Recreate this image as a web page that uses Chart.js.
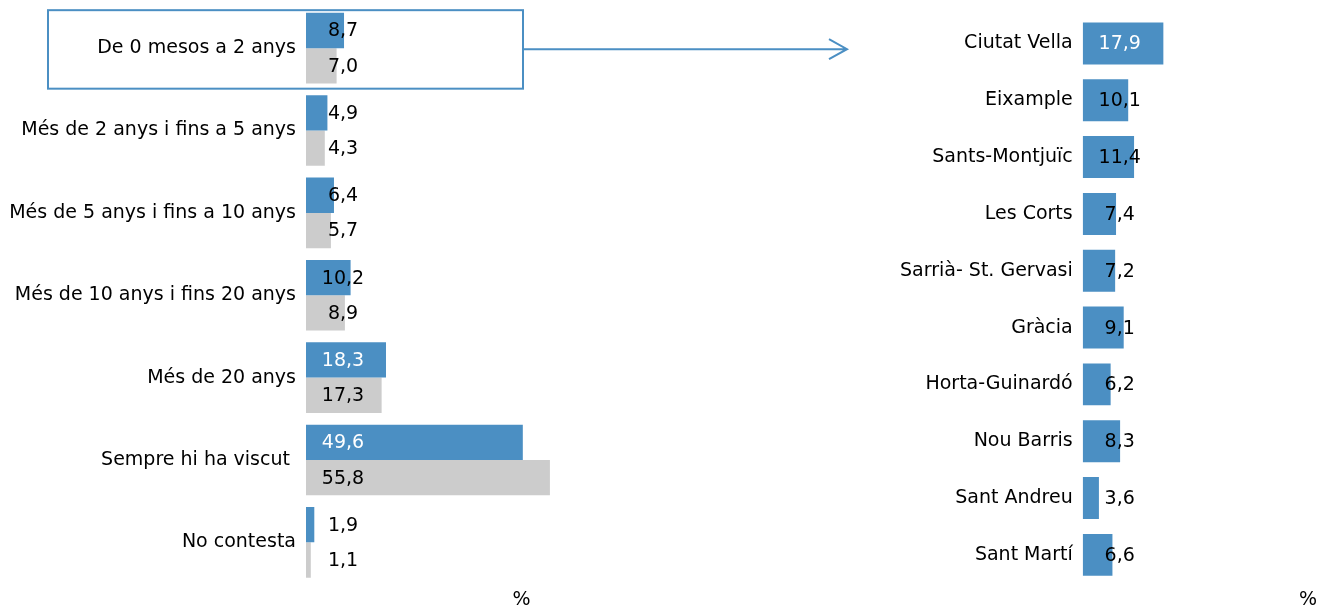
<!DOCTYPE html>
<html>
<head>
<meta charset="utf-8">
<script src="https://cdn.jsdelivr.net/npm/chart.js@4"></script>
<style>
  body { margin: 0; background: #fff; }
  #wrap { position: relative; width: 1322px; height: 610px; }
  #left { position: absolute; left: 0; top: 0; }
  #right { position: absolute; left: 860px; top: 0; }
</style>
</head>
<body>
<div id="wrap">
  <canvas id="left" width="860" height="610"></canvas>
  <canvas id="right" width="462" height="610"></canvas>
</div>
<script>
// time living in the neighbourhood
var anysLabels = ['De 0 mesos a 2 anys', 'Més de 2 anys i fins a 5 anys', 'Més de 5 anys i fins a 10 anys',
    'Més de 10 anys i fins 20 anys', 'Més de 20 anys', 'Sempre hi ha viscut ', 'No contesta'];
var anysBlau = [8.7, 4.9, 6.4, 10.2, 18.3, 49.6, 1.9];
var anysGris = [7.0, 4.3, 5.7, 8.9, 17.3, 55.8, 1.1];

// "De 0 mesos a 2 anys" by district
var districtes = ['Ciutat Vella', 'Eixample', 'Sants-Montjuïc', 'Les Corts', 'Sarrià- St. Gervasi',
    'Gràcia', 'Horta-Guinardó', 'Nou Barris', 'Sant Andreu', 'Sant Martí'];
var districtesValors = [17.9, 10.1, 11.4, 7.4, 7.2, 9.1, 6.2, 8.3, 3.6, 6.6];

var BLUE = '#4b8fc3';
var GREY = '#cccccc';
var TEXT = '#000';
var FONT = { family: 'DejaVu Sans', size: 19 };

Chart.defaults.font.family = 'DejaVu Sans';
Chart.defaults.color = TEXT;

// value labels, centred a fixed distance from the bar base
var valueLabels = {
    id: 'valueLabels',
    afterDatasetsDraw: function (chart) {
        var ctx = chart.ctx;
        ctx.save();
        ctx.font = '19px "DejaVu Sans"';
        ctx.textAlign = 'center';
        ctx.textBaseline = 'middle';
        chart.data.datasets.forEach(function (ds, i) {
            chart.getDatasetMeta(i).data.forEach(function (bar, j) {
                var txt = ds.data[j].toFixed(1).replace('.', ',');
                var cx = bar.base + 37;
                var w = ctx.measureText(txt).width;
                ctx.fillStyle = (ds.backgroundColor === BLUE && bar.x > cx + w / 2 + 2) ? '#fff' : TEXT;
                ctx.fillText(txt, cx, bar.y + 1);
            });
        });
        ctx.restore();
    }
};

// frame round the first category and arrow to the district chart
var frameArrow = {
    id: 'frameArrow',
    afterDraw: function (chart) {
        var ctx = chart.ctx;
        var y0 = chart.scales.y.getPixelForValue(0);
        ctx.save();
        ctx.strokeStyle = BLUE;
        ctx.lineWidth = 2;
        ctx.strokeRect(48, y0 - 38, 475, 78.5);
        ctx.beginPath();
        ctx.moveTo(523, y0 + 1);
        ctx.lineTo(847, y0 + 1);
        ctx.moveTo(829, y0 - 9);
        ctx.lineTo(847, y0 + 1);
        ctx.lineTo(829, y0 + 11);
        ctx.stroke();
        ctx.restore();
    }
};

function yAxis(width) {
    return {
        grid: { display: false, drawTicks: false },
        border: { display: false },
        ticks: { font: FONT, color: TEXT, padding: 10 },
        afterFit: function (s) {
            s.width = width;
            s.paddingTop = 0;
            s.paddingBottom = 0;
        }
    };
}

function xAxis(max, align, padTop) {
    return {
        min: 0,
        max: max,
        grid: { display: false, drawTicks: false },
        border: { display: false },
        ticks: { display: false },
        title: { display: true, text: '%', align: align, color: TEXT,
                 font: { family: 'DejaVu Sans', size: 19, lineHeight: 1 },
                 padding: { top: padTop, bottom: 0 } },
        afterFit: function (s) {
            s.paddingLeft = 0;
            s.paddingRight = 0;
        }
    };
}

new Chart(document.getElementById('left').getContext('2d'), {
    type: 'bar',
    data: {
        labels: anysLabels,
        datasets: [
            { label: 'Sèrie 1', data: anysBlau, backgroundColor: BLUE,
              categoryPercentage: 0.858, barPercentage: 1 },
            { label: 'Sèrie 2', data: anysGris, backgroundColor: GREY,
              categoryPercentage: 0.858, barPercentage: 1 }
        ]
    },
    options: {
        indexAxis: 'y',
        responsive: false,
        animation: false,
        layout: { padding: { top: 7, right: 123, bottom: 0, left: 0 } },
        plugins: { legend: { display: false }, tooltip: { enabled: false } },
        scales: { y: yAxis(306), x: xAxis(98.6, 'center', 7.5) }
    },
    plugins: [valueLabels, frameArrow]
});

new Chart(document.getElementById('right').getContext('2d'), {
    type: 'bar',
    data: {
        labels: districtes,
        datasets: [
            { label: 'De 0 mesos a 2 anys', data: districtesValors, backgroundColor: BLUE,
              categoryPercentage: 0.738, barPercentage: 1 }
        ]
    },
    options: {
        indexAxis: 'y',
        responsive: false,
        animation: false,
        layout: { padding: { top: 15, right: 5, bottom: 0, left: 0 } },
        plugins: { legend: { display: false }, tooltip: { enabled: false } },
        scales: { y: yAxis(222.7), x: xAxis(52, 'end', 7.7) }
    },
    plugins: [valueLabels]
});
</script>
</body>
</html>
